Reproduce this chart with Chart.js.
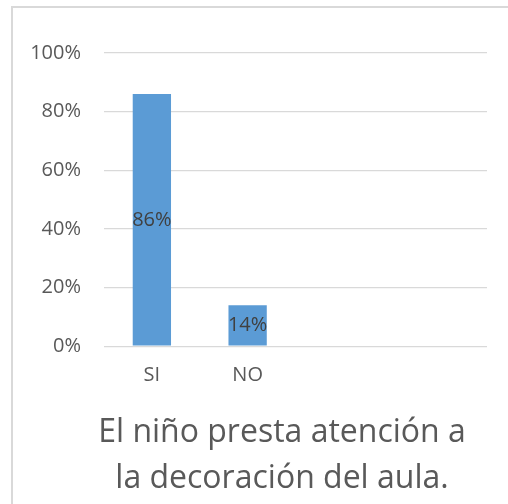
<!DOCTYPE html>
<html>
<head>
<meta charset="utf-8">
<script src="https://cdn.jsdelivr.net/npm/chart.js@4/dist/chart.umd.min.js"></script>
<style>
  html, body { margin: 0; padding: 0; background: #fff; overflow: hidden; }
  #frame { position: absolute; left: 11px; top: 6px; width: 600px; height: 600px;
           border: 2px solid #d9d9d9; }
  #wrap { position: absolute; left: 0; top: 0; width: 508px; height: 504px; }
</style>
</head>
<body>
<div id="frame"></div>
<div id="wrap"><canvas id="chart" width="508" height="504"></canvas></div>
<script>
// chart data
const categories = ['SI', 'NO', '', ''];
const values = [0.86, 0.14];
const tickValues = [0, 0.2, 0.4, 0.6, 0.8, 1];
const titleLines = ['El niño presta atención a', 'la decoración del aula.'];

const fontFamily = '"Open Sans", "Liberation Sans", sans-serif';
const pct = v => Math.round(v * 100) + '%';

// labels in the middle of each bar
const barLabels = {
    id: 'barLabels',
    afterDatasetsDraw(chart) {
        const ctx = chart.ctx;
        const meta = chart.getDatasetMeta(0);
        ctx.save();
        ctx.font = '20px ' + fontFamily;
        ctx.fillStyle = '#404040';
        ctx.textAlign = 'center';
        ctx.textBaseline = 'middle';
        meta.data.forEach((bar, i) => {
            const v = chart.data.datasets[0].data[i];
            if (v == null) return;
            ctx.fillText(pct(v), bar.x, (bar.y + bar.base) / 2);
        });
        ctx.restore();
    }
};

// the title sits a little right of the canvas centre, as in the original
const titleShift = {
    id: 'titleShift',
    afterLayout(chart) {
        if (chart.titleBlock) chart.titleBlock.left = 77;
    }
};

new Chart(document.getElementById('chart'), {
    type: 'bar',
    data: {
        labels: categories,
        datasets: [{
            data: values,
            backgroundColor: '#5b9bd5',
            borderWidth: 0,
            barPercentage: 0.4,
            categoryPercentage: 1
        }]
    },
    options: {
        responsive: false,
        animation: false,
        layout: { padding: { left: 0, right: 21, top: 53, bottom: 0 } },
        plugins: {
            legend: { display: false },
            tooltip: { enabled: false },
            title: {
                display: true,
                position: 'bottom',
                text: titleLines,
                color: '#595959',
                font: { family: fontFamily, size: 32, weight: 'normal', lineHeight: 1.45 },
                padding: { top: 0, bottom: 2 }
            }
        },
        scales: {
            x: {
                grid: { display: false, drawTicks: false },
                border: { display: false },
                ticks: {
                    color: '#595959',
                    font: { family: fontFamily, size: 20 },
                    padding: 17,
                    maxRotation: 0
                },
                afterFit(scale) { scale.height = 63; }
            },
            y: {
                min: 0,
                max: 1,
                afterBuildTicks(scale) { scale.ticks = tickValues.map(v => ({ value: v })); },
                grid: { color: '#d9d9d9', lineWidth: 1.3, drawTicks: false },
                border: { display: false },
                ticks: {
                    color: '#595959',
                    font: { family: fontFamily, size: 20 },
                    padding: 23,
                    callback: v => pct(v)
                },
                afterFit(scale) { scale.width = 104; }
            }
        }
    },
    plugins: [barLabels, titleShift]
});
</script>
</body>
</html>
